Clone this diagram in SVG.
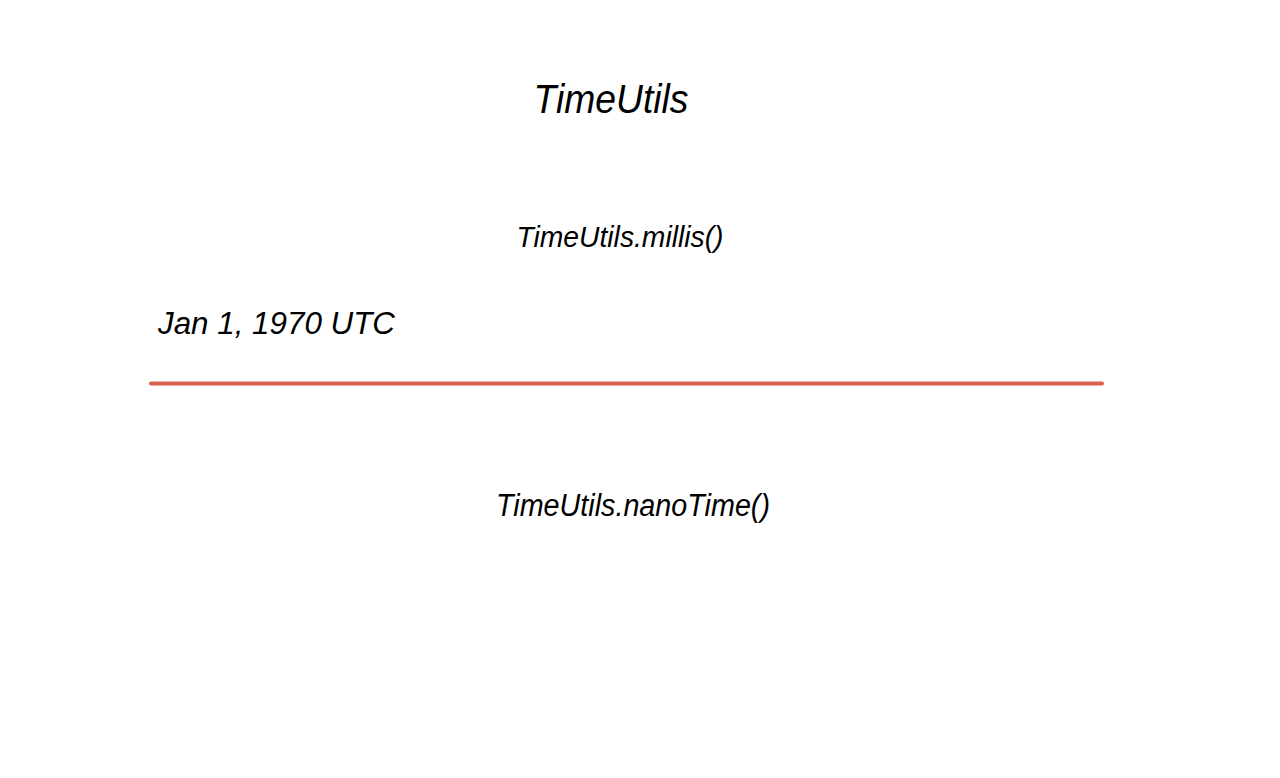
<svg xmlns="http://www.w3.org/2000/svg" width="1280" height="778" viewBox="0 0 1280 778">
<style>
.t{font-family:"Liberation Sans",Arial,sans-serif;font-style:italic;fill:#000}
</style>
<rect width="1280" height="778" fill="#fff"/>
<g id="title"><text class="t" x="611" y="113" font-size="40" text-anchor="middle" textLength="155" lengthAdjust="spacingAndGlyphs">TimeUtils</text></g>
<g id="millis"><text class="t" x="620" y="247" font-size="30" text-anchor="middle" textLength="207" lengthAdjust="spacingAndGlyphs">TimeUtils.millis()</text></g>
<g id="epoch"><text class="t" x="158" y="334" font-size="31" textLength="237" lengthAdjust="spacingAndGlyphs">Jan 1, 1970 UTC</text></g>
<g id="connectors"><line x1="151" y1="383.5" x2="1102" y2="383.5" stroke="#d95f4f" stroke-width="4" stroke-linecap="round"/></g>
<g id="nanotime"><text class="t" x="633" y="516" font-size="31" text-anchor="middle" textLength="274" lengthAdjust="spacingAndGlyphs">TimeUtils.nanoTime()</text></g>
</svg>
